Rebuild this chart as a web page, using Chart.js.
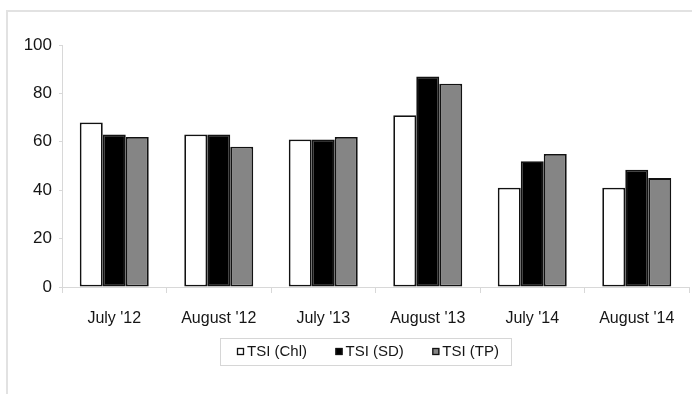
<!DOCTYPE html>
<html>
<head>
<meta charset="utf-8">
<style>
  html, body { margin: 0; padding: 0; background: #fff; }
  #wrap { position: relative; width: 692px; height: 394px; }
  canvas { display: block; }
</style>
<script src="https://cdn.jsdelivr.net/npm/chart.js@4/dist/chart.umd.min.js"></script>
</head>
<body>
<div id="wrap"><canvas id="c" width="692" height="394"></canvas></div>
<script>
// Trophic State Index by sampling month
const categories = ["July '12", "August '12", "July '13", "August '13", "July '14", "August '14"];
const tsiChl = [68, 63, 61, 71, 41, 41];
const tsiSD  = [63, 63, 61, 87, 52, 48.5];
const tsiTP  = [62, 58, 62, 84, 55, 45];
const seriesNames = ['TSI (Chl)', 'TSI (SD)', 'TSI (TP)'];
const yTicks = [0, 20, 40, 60, 80, 100];

const FONT = '"Liberation Sans", Arial, sans-serif';
const INK = '#151515';

// Frame around the figure and a boxed legend under the axis
const framePlugin = {
  id: 'frame',
  beforeDraw(chart) {
    const ctx = chart.ctx;
    ctx.save();
    ctx.fillStyle = '#fff';
    ctx.fillRect(0, 0, chart.width, chart.height);
    ctx.strokeStyle = '#e2e2e2';
    ctx.lineWidth = 2;
    ctx.beginPath();
    ctx.moveTo(7, chart.height);
    ctx.lineTo(7, 11);
    ctx.lineTo(chart.width, 11);
    ctx.stroke();
    ctx.restore();
  },
  afterDraw(chart) {
    const ctx = chart.ctx;
    ctx.save();
    ctx.strokeStyle = '#d6d6d6';
    ctx.lineWidth = 1;
    ctx.strokeRect(220.5, 338.5, 291, 27);
    ctx.font = '15px ' + FONT;
    ctx.textBaseline = 'middle';
    let x = 237;
    const cy = 351.5;
    chart.data.datasets.forEach(ds => {
      ctx.fillStyle = ds.backgroundColor;
      ctx.fillRect(x, cy - 3.5, 7, 7);
      ctx.strokeStyle = '#111';
      ctx.lineWidth = 1.3;
      ctx.strokeRect(x + 0.5, cy - 3, 6, 6);
      ctx.fillStyle = INK;
      ctx.fillText(ds.label, x + 10, cy);
      x += 10 + ctx.measureText(ds.label).width + 28.5;
    });
    ctx.restore();
  }
};

const barStyle = { borderColor: '#121212', borderWidth: 1.8, borderSkipped: false,
                   categoryPercentage: 0.66, barPercentage: 1.0 };

new Chart(document.getElementById('c'), {
  type: 'bar',
  data: {
    labels: categories,
    datasets: [
      Object.assign({ label: seriesNames[0], data: tsiChl, backgroundColor: '#ffffff' }, barStyle),
      Object.assign({ label: seriesNames[1], data: tsiSD,  backgroundColor: '#000000' }, barStyle),
      Object.assign({ label: seriesNames[2], data: tsiTP,  backgroundColor: '#858585' }, barStyle)
    ]
  },
  options: {
    responsive: false,
    animation: false,
    devicePixelRatio: 1,
    layout: { padding: { top: 45, right: 3, bottom: 67, left: 0 } },
    plugins: { legend: { display: false }, tooltip: { enabled: false } },
    scales: {
      x: {
        grid: { display: true, drawOnChartArea: false, drawTicks: true, tickLength: 6, color: '#d8d8d8', offset: true },
        border: { display: true, color: '#d8d8d8', width: 1 },
        ticks: { color: INK, font: { family: FONT, size: 16 }, padding: 16, maxRotation: 0 },
        afterFit(scale) { scale.height = 40; }
      },
      y: {
        min: 0, max: 100,
        afterBuildTicks(scale) { scale.ticks = yTicks.map(v => ({ value: v })); },
        grid: { display: true, drawOnChartArea: false, drawTicks: true, tickLength: 3, color: '#d8d8d8' },
        border: { display: true, color: '#d8d8d8', width: 1 },
        ticks: { color: INK, font: { family: FONT, size: 17 }, padding: 7 },
        afterFit(scale) { scale.width = 62; }
      }
    }
  },
  plugins: [framePlugin]
});
</script>
</body>
</html>
